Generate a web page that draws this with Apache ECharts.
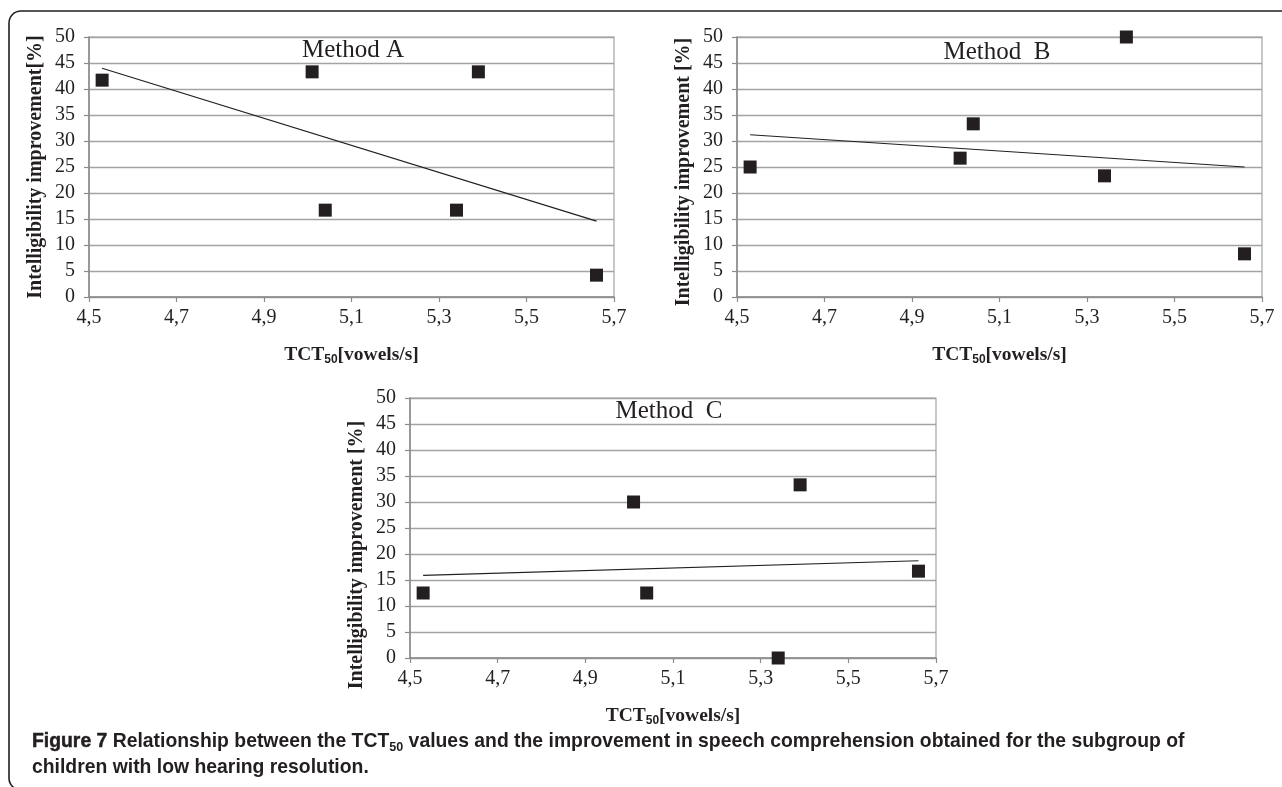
<!DOCTYPE html>
<html>
<head>
<meta charset="utf-8">
<script src="https://cdn.jsdelivr.net/npm/echarts@6/dist/echarts.min.js"></script>
<style>
html,body{margin:0;padding:0;background:#fff;}
#chart{width:1282px;height:787px;}
</style>
</head>
<body>
<div id="chart"></div>
<script>
// ---- data ----
const tctValues = [4.53, 5.01, 5.04, 5.34, 5.39, 5.66];      // TCT50 [vowels/s]
const improvementA = [41.7, 43.3, 16.7, 16.7, 43.3, 4.2];   // Method A [%]
const improvementB = [25.0, 26.7, 33.3, 23.3, 50.0, 8.3];   // Method B [%]
const improvementC = [12.5, 30.0, 12.5, 0.0, 33.3, 16.7];   // Method C [%]
const trendX = [4.53, 5.66];                                // trend line ends
const trendA = [44.0, 14.6];
const trendB = [31.2, 25.0];
const trendC = [15.9, 18.7];
const panelTitles = ['Method A', 'Method  B', 'Method  C'];
const yAxisNames = ['Intelligibility improvement[%]', 'Intelligibility improvement [%]', 'Intelligibility improvement [%]'];
const xMin = 4.5, xMax = 5.7, xStep = 0.2;
const yMin = 0, yMax = 50, yStep = 5;
const captionLine1 = ['Figure 7', ' Relationship between the TCT', '50', ' values and the improvement in speech comprehension obtained for the subgroup of'];
const captionLine2 = 'children with low hearing resolution.';

// ---- styling / layout ----
const ink = '#231f20';
const gridGray = '#a3a3a3';
const axisGray = '#8a8a8a';
const serif = '"Liberation Serif", "Times New Roman", serif';
const panels = [
  {left: 89, top: 37, width: 525, height: 260, yPad: [0,0,0,0], title: [353, 50]},
  {left: 737, top: 37, width: 525, height: 260, yPad: [0,10,0,0], title: [997, 52]},
  {left: 410, top: 398, width: 526, height: 260, yPad: [0,54,0,0], title: [669, 411]}
];
const values = [improvementA, improvementB, improvementC];
const trends = [trendA, trendB, trendC];

// caption font: sans bold, horizontally condensed to the measured line width
const capFamily = '"Liberation Sans", Arial, sans-serif';
const capSize = 20.5;
const cv = document.createElement('canvas').getContext('2d');
cv.font = 'bold ' + capSize + 'px ' + capFamily;
const fullLine = captionLine1.join('');
const capScaleX = 1160 / cv.measureText(fullLine).width;

const chart = echarts.init(document.getElementById('chart'), null, {renderer: 'canvas'});

const grids = panels.map(p => ({left: p.left, top: p.top, width: p.width, height: p.height,
  show: true, borderColor: gridGray, borderWidth: 1.2, backgroundColor: 'transparent', outerBoundsMode: 'none'}));

const xAxes = panels.map((p, i) => ({
  type: 'value', gridIndex: i, min: xMin, max: xMax, interval: xStep,
  name: '{t|TCT}{s|50}{t|[vowels/s]}', nameLocation: 'middle', nameGap: 47,
  nameTextStyle: {rich: {
    t: {fontFamily: serif, fontWeight: 'bold', fontSize: 19.5, color: ink, lineHeight: 22},
    s: {fontFamily: '"Liberation Sans", sans-serif', fontWeight: 'bold', fontSize: 12, color: ink, lineHeight: 9, verticalAlign: 'bottom'}
  }},
  axisLine: {show: true, lineStyle: {color: axisGray, width: 1.5}},
  axisTick: {show: true, length: 5, inside: false, lineStyle: {color: axisGray, width: 1.2}},
  axisLabel: {fontFamily: serif, fontSize: 20, color: ink, margin: 11,
    formatter: v => v.toFixed(1).replace('.', ',')},
  splitLine: {show: false}
}));

const yAxes = panels.map((p, i) => ({
  type: 'value', gridIndex: i, min: yMin, max: yMax, interval: yStep,
  name: yAxisNames[i], nameLocation: 'middle', nameGap: 43, nameRotate: 90,
  nameTextStyle: {fontFamily: serif, fontWeight: 'bold', fontSize: 20, color: ink, padding: p.yPad},
  axisLine: {show: true, lineStyle: {color: axisGray, width: 1.5}},
  axisTick: {show: true, length: 5, inside: false, lineStyle: {color: axisGray, width: 1.2}},
  axisLabel: {fontFamily: serif, fontSize: 20, color: ink, margin: 14},
  splitLine: {show: true, lineStyle: {color: gridGray, width: 1.3}}
}));

const series = [];
panels.forEach((p, i) => {
  series.push({
    type: 'line', xAxisIndex: i, yAxisIndex: i, symbol: 'none', silent: true,
    data: trendX.map((x, k) => [x, trends[i][k]]),
    lineStyle: {color: ink, width: 1.2}, z: 3
  });
  series.push({
    type: 'scatter', xAxisIndex: i, yAxisIndex: i, symbol: 'rect', symbolSize: 13, clip: false,
    data: tctValues.map((x, k) => [x, values[i][k]]),
    itemStyle: {color: ink, opacity: 1}, z: 4
  });
});

const graphics = [
  {type: 'rect', shape: {x: 9, y: 11, width: 1300, height: 779, r: 12}, silent: true,
   style: {fill: 'none', stroke: ink, lineWidth: 1.6}, z: 100}
];
panels.forEach((p, i) => {
  graphics.push({type: 'text', x: p.title[0], y: p.title[1], z: 100,
    style: {text: panelTitles[i], fill: ink, font: '25px ' + serif,
      align: 'center', verticalAlign: 'middle', textAlign: 'center', textVerticalAlign: 'middle'}});
});
graphics.push({type: 'text', x: 32, y: 741, scaleX: capScaleX, z: 100,
  style: {
    text: '{b|' + captionLine1[0] + '}{n|' + captionLine1[1] + '}{s|' + captionLine1[2] + '}{n|' + captionLine1[3] + '}',
    align: 'left', verticalAlign: 'middle', textAlign: 'left', textVerticalAlign: 'middle',
    rich: {
      b: {fontFamily: capFamily, fontWeight: 'bold', fontSize: capSize, fill: ink, lineHeight: 26,
          stroke: ink, lineWidth: 0.5},
      n: {fontFamily: capFamily, fontWeight: 'bold', fontSize: capSize, fill: ink, lineHeight: 26},
      s: {fontFamily: capFamily, fontWeight: 'bold', fontSize: capSize * 0.65, fill: ink, lineHeight: 10, verticalAlign: 'bottom'}
    }
  }});
graphics.push({type: 'text', x: 32, y: 767, scaleX: capScaleX, z: 100,
  style: {text: captionLine2, fill: ink, font: 'bold ' + capSize + 'px ' + capFamily,
    align: 'left', verticalAlign: 'middle', textAlign: 'left', textVerticalAlign: 'middle'}});

chart.setOption({
  animation: false,
  backgroundColor: '#fff',
  grid: grids,
  xAxis: xAxes,
  yAxis: yAxes,
  series: series,
  graphic: graphics
});
</script>
</body>
</html>
